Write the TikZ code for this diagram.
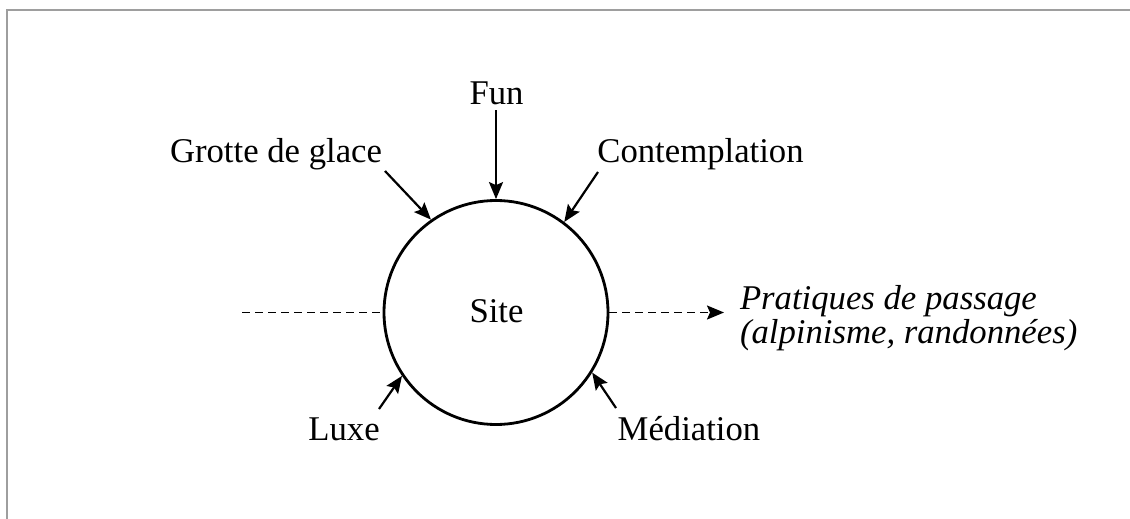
\documentclass[tikz,border=0pt]{standalone}
\usepackage{fontspec}
\setmainfont{Liberation Serif}
\usetikzlibrary{arrows.meta}
\begin{document}
\begin{tikzpicture}[x=1pt,y=-1pt,
  lbl/.style={inner sep=0pt,outer sep=0pt,anchor=base,font=\fontsize{34.7}{34}\selectfont},
  tipstyle/.style={-{Stealth[length=17pt,width=14pt,inset=3pt]}},
  inarrow/.style={line width=2.2pt,tipstyle},
  dashline/.style={line width=1.8pt,dash pattern=on 8pt off 5pt},
  frame/.style={draw=black!38,line width=2pt}]
\useasboundingbox (0,0) rectangle (1130,519);
\fill[white] (0,0) rectangle (1130,519);
\draw[frame] (7,519) -- (7,10) -- (1130,10);
\node[draw,circle,line width=2.8pt,minimum size=224pt,inner sep=0pt] (site) at (496,312.5) {};
\node[lbl] (sitelbl) at (496.5,322) {Site};
\node[lbl] (fun) at (496.5,104) {Fun};
\node[lbl] (grotte) at (276,162) {Grotte de glace};
\node[lbl] (contemp) at (700.5,162) {Contemplation};
\node[lbl] (luxe) at (344,440) {Luxe};
\node[lbl] (media) at (689,440) {Médiation};
\node[lbl,anchor=base west,align=left,font=\fontsize{34.7}{34}\selectfont\itshape] (prat) at (740,343) {Pratiques de passage\\(alpinisme, randonnées)};
\coordinate (cfun) at (496,110);
\coordinate (cgrotte) at (385,171);
\coordinate (ccont) at (598,172);
\coordinate (cluxe) at (379,409);
\coordinate (cmedia) at (616,408);
\coordinate (cleft) at (242,312.5);
\coordinate (cright) at (724,312.5);
\draw[inarrow] (cfun) -- (site.90);
\draw[inarrow] (cgrotte) -- (site.125);
\draw[inarrow] (ccont) -- (site.53);
\draw[inarrow] (cluxe) -- (site.214);
\draw[inarrow] (cmedia) -- (site.-32);
\draw[dashline] (cleft) -- (site.west);
\draw[dashline,tipstyle] (site.east) -- (cright);
\end{tikzpicture}
\end{document}
